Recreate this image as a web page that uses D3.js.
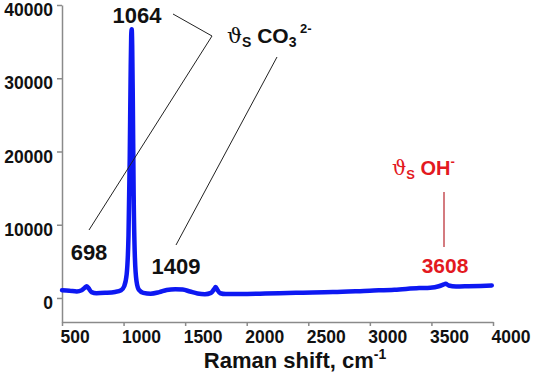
<!DOCTYPE html>
<html>
<head>
<meta charset="utf-8">
<script src="https://cdn.jsdelivr.net/npm/d3@7"></script>
<style>
  body { margin: 0; background: #fff; }
  text { font-family: "Liberation Sans", Arial, sans-serif; font-weight: bold; }
</style>
</head>
<body>
<div id="chart"></div>
<script>
// spectrum (wavenumber, counts)
const shift = [500, 560, 620, 660, 685, 700, 715, 740, 780, 850, 930, 980, 1005, 1025, 1040, 1050, 1057, 1062, 1066, 1070, 1075, 1082, 1092, 1105, 1125, 1160, 1220, 1290, 1350, 1420, 1480, 1540, 1600, 1660, 1710, 1735, 1748, 1760, 1785, 1830, 1950, 2150, 2400, 2700, 3000, 3200, 3400, 3490, 3560, 3600, 3615, 3640, 3700, 3800, 3900, 3990];
const counts = [1050, 1000, 900, 1050, 1400, 1600, 1350, 800, 650, 700, 820, 1050, 1600, 3200, 8500, 19000, 30000, 35800, 36700, 34500, 27000, 14000, 5500, 2300, 1100, 700, 580, 800, 1100, 1200, 1150, 880, 620, 520, 700, 1200, 1500, 1150, 650, 540, 540, 600, 720, 800, 1000, 1120, 1350, 1400, 1600, 1850, 1950, 1700, 1560, 1600, 1650, 1700];

const xTicks = [500, 1000, 1500, 2000, 2500, 3000, 3500, 4000];
const yTicks = [0, 10000, 20000, 30000, 40000];

// peak labels
const carbonatePeaks = ["698", "1064", "1409"];
const hydroxylPeak = "3608";

const W = 533, H = 374;
const svg = d3.select("#chart").append("svg")
    .attr("width", W).attr("height", H);

const x = d3.scaleLinear().domain([500, 4000]).range([62, 493]);
const y = d3.scaleLinear().domain([-3280, 40000]).range([322, 5]);

const axisColor = "#8a8a8a";

/* ---- axes ---- */
const xAxis = svg.append("g").attr("transform", "translate(0,322)")
    .call(d3.axisBottom(x).tickValues(xTicks).tickSize(4).tickSizeOuter(0).tickFormat(d3.format("d")));
xAxis.select(".domain").attr("stroke", axisColor).attr("stroke-width", 1.5);
xAxis.selectAll(".tick line").attr("stroke", axisColor).attr("stroke-width", 1.5);
xAxis.selectAll(".tick text")
    .attr("fill", "#111").attr("font-size", 17.5)
    .attr("text-anchor", "start").attr("x", -2).attr("y", 21).attr("dy", 0);

const yAxis = svg.append("g").attr("transform", "translate(62,0)")
    .call(d3.axisLeft(y).tickValues(yTicks).tickSize(5).tickSizeOuter(0).tickFormat(d3.format("d")));
yAxis.select(".domain").attr("stroke", axisColor).attr("stroke-width", 1.5);
yAxis.selectAll(".tick line").attr("stroke", axisColor).attr("stroke-width", 1.5);
yAxis.selectAll(".tick text")
    .attr("fill", "#111").attr("font-size", 17.5)
    .attr("x", -9).attr("dy", "0.95em").attr("y", -6);

const title = svg.append("text")
    .attr("x", 295).attr("y", 368)
    .attr("text-anchor", "middle").attr("font-size", 22).attr("fill", "#111");
title.append("tspan").text("Raman shift, cm");
title.append("tspan").text("-1").attr("font-size", 14).attr("dy", -9);

/* ---- spectrum ---- */
const pts = shift.map((s, i) => [s, counts[i]]);
svg.append("path")
    .datum(pts)
    .attr("fill", "none")
    .attr("stroke", "#0d18f2")
    .attr("stroke-width", 4.5)
    .attr("stroke-linejoin", "round")
    .attr("stroke-linecap", "round")
    .attr("d", d3.line().x(d => x(d[0])).y(d => y(d[1])).curve(d3.curveMonotoneX));

/* ---- carbonate annotations ---- */
const lead = svg.append("g").attr("stroke", "#222").attr("stroke-width", 1).attr("fill", "none");
lead.append("polyline").attr("points", "173,14 212,36 89,230");
lead.append("line").attr("x1", 277).attr("y1", 57).attr("x2", 176).attr("y2", 245);

const labelPos = [[89, 260], [137, 23], [176, 274]];
carbonatePeaks.forEach((t, i) => {
    svg.append("text").text(t)
        .attr("x", labelPos[i][0]).attr("y", labelPos[i][1])
        .attr("text-anchor", "middle").attr("font-size", 22).attr("fill", "#111");
});

const co3 = svg.append("text").attr("x", 227).attr("y", 43).attr("font-size", 21).attr("fill", "#111");
co3.append("tspan").text("\u03D1").attr("font-family", "DejaVu Serif").attr("font-weight", "normal");
co3.append("tspan").text("S").attr("font-size", 14).attr("dy", 4);
co3.append("tspan").text(" CO").attr("dy", -4);
co3.append("tspan").text("3").attr("font-size", 14).attr("dy", 4);
co3.append("tspan").text(" 2-").attr("font-size", 13).attr("dy", -14);

/* ---- hydroxyl annotation ---- */
const red = "#e3191f";
svg.append("line").attr("x1", 444).attr("y1", 192).attr("x2", 444).attr("y2", 247)
    .attr("stroke", "#b8232a").attr("stroke-width", 1.2);
svg.append("text").text(hydroxylPeak)
    .attr("x", 445).attr("y", 273).attr("text-anchor", "middle")
    .attr("font-size", 21).attr("fill", red);

const oh = svg.append("text").attr("x", 392).attr("y", 175).attr("font-size", 20).attr("fill", red);
oh.append("tspan").text("\u03D1").attr("font-family", "DejaVu Serif").attr("font-weight", "normal");
oh.append("tspan").text("S").attr("font-size", 13).attr("dy", 4);
oh.append("tspan").text(" OH").attr("dy", -4);
oh.append("tspan").text("-").attr("font-size", 13).attr("dy", -9);
</script>
</body>
</html>
